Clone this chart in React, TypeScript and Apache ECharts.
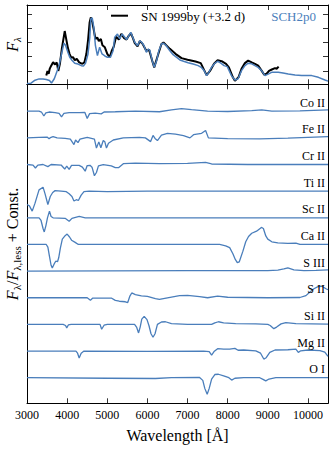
import React, { useEffect, useRef } from 'react';
import * as echarts from 'echarts';

const BLUE = '#4a7ebb';
const FONT = '"Liberation Serif", "Times New Roman", serif';

// wavelength axis
const xMin = 3000;
const xMax = 10500;
const xTickStep = 1000;
const topYTicks = [1, 2, 3, 4, 5];

// SN 1999by observed spectrum (arbitrary flux units)
const observedSpectrum: [number, number][] = [
  [3480, 0.67], [3510, 1.0], [3540, 0.8], [3565, 1.14], [3600, 1.35], [3650, 1.61], [3700, 1.45],
  [3740, 1.6], [3780, 1.0], [3820, 1.5], [3870, 2.6], [3940, 3.8], [3980, 3.2], [4020, 2.6],
  [4060, 2.2], [4100, 1.95], [4150, 1.96], [4190, 1.75], [4240, 1.85], [4300, 1.6], [4380, 1.5],
  [4430, 1.6], [4480, 2.2], [4520, 3.12], [4560, 4.4], [4590, 4.76], [4630, 4.4], [4670, 3.8],
  [4705, 3.24], [4750, 3.35], [4790, 3.1], [4840, 3.24], [4880, 2.8], [4940, 2.66], [5000, 2.2],
  [5060, 1.96], [5110, 2.4], [5160, 2.7], [5220, 3.4], [5290, 3.2], [5350, 3.6], [5420, 3.3],
  [5480, 3.2], [5530, 3.45], [5590, 3.65], [5640, 3.3], [5685, 2.95], [5755, 2.72], [5810, 3.1],
  [5880, 2.9], [5975, 2.4], [6040, 2.5], [6120, 1.72], [6170, 1.25], [6250, 2.0], [6350, 2.89],
  [6400, 3.0], [6560, 2.55], [6700, 2.2], [6850, 1.9], [7000, 1.78], [7200, 1.66], [7330, 1.55],
  [7420, 1.02], [7475, 0.7], [7560, 1.0], [7660, 1.5], [7750, 1.75], [7850, 1.68], [7960, 1.5],
  [8030, 1.25], [8130, 0.55], [8180, 0.3], [8270, 0.55], [8345, 1.15], [8430, 1.55], [8510, 1.72],
  [8600, 1.6], [8680, 1.5], [8760, 1.37], [8845, 1.02], [8910, 0.73], [8970, 0.8], [9030, 1.0],
  [9100, 1.1], [9180, 1.2], [9220, 1.15], [9270, 1.3],
];

// SCH2p0 model spectrum
const modelSpectrum: [number, number][] = [
  [3000, 0.12], [3100, 0.14], [3200, 0.35], [3300, 0.44], [3400, 0.44], [3480, 0.4], [3560, 0.33],
  [3610, 0.15], [3680, 0.45], [3750, 1.0], [3800, 1.4], [3860, 2.19], [3920, 2.94], [3960, 2.8],
  [4020, 2.3], [4065, 1.96], [4120, 1.75], [4190, 1.54], [4270, 1.48], [4355, 1.37], [4410, 1.35],
  [4460, 1.55], [4520, 2.19], [4565, 3.36], [4590, 4.65], [4625, 4.72], [4665, 4.06], [4705, 2.77],
  [4755, 2.07], [4810, 2.66], [4870, 2.19], [4940, 2.05], [5005, 1.96], [5080, 1.96], [5145, 2.42],
  [5185, 3.36], [5255, 3.59], [5310, 3.24], [5370, 3.59], [5435, 3.36], [5480, 3.2], [5530, 3.45],
  [5585, 3.71], [5630, 3.4], [5685, 3.01], [5755, 2.77], [5810, 3.12], [5860, 3.0], [5910, 2.8],
  [5975, 2.31], [6020, 2.54], [6060, 2.45], [6120, 1.72], [6170, 1.26], [6230, 1.72], [6285, 2.42],
  [6350, 2.89], [6400, 2.94], [6460, 2.8], [6560, 2.42], [6640, 2.14], [6730, 1.95], [6810, 1.77],
  [6900, 1.68], [7015, 1.58], [7140, 1.48], [7265, 1.37], [7340, 1.25], [7415, 1.02], [7475, 0.67],
  [7530, 0.9], [7600, 1.26], [7665, 1.49], [7750, 1.68], [7830, 1.55], [7910, 1.37], [7990, 1.3],
  [8095, 0.67], [8180, 0.36], [8260, 0.45], [8345, 1.02], [8430, 1.37], [8510, 1.54], [8600, 1.5],
  [8680, 1.37], [8760, 1.25], [8845, 1.02], [8930, 0.67], [9010, 0.78], [9095, 0.9], [9260, 0.9],
  [9380, 0.85], [9510, 0.79], [9680, 0.72], [9845, 0.67], [10095, 0.67], [10260, 0.55], [10425, 0.36],
  [10500, 0.28],
];

// flux ratios F / F_less (deviation from 1, before the constant offset)
const ratioOI: [number, number][] = [
  [3000, 0], [5000, -0.02], [6200, -0.03], [6600, 0], [7300, 0.01], [7380, -0.1], [7430, -0.4],
  [7490, -0.62], [7540, -0.4], [7600, -0.05], [7680, 0.12], [7770, 0.13], [7900, 0.07], [8030, 0],
  [8100, -0.09], [8180, -0.02], [8400, 0], [8800, 0], [8880, -0.06], [8950, -0.12], [9030, -0.05],
  [9200, 0], [10500, 0],
];
const ratioMgII: [number, number][] = [
  [3000, 0], [4220, 0], [4260, -0.08], [4300, -0.26], [4350, -0.08], [4420, 0], [6000, -0.01],
  [7400, 0], [7540, -0.02], [7600, -0.15], [7660, -0.02], [7750, 0.09], [7900, 0.07], [8050, 0.07],
  [8180, 0.1], [8260, 0.03], [8400, 0.04], [8700, 0.01], [8820, -0.08], [8900, -0.3], [8960, -0.25],
  [9050, -0.05], [9180, 0.04], [9500, 0.05], [9700, 0.07], [9760, -0.05], [9820, 0.01], [10000, 0.04],
  [10300, 0.02], [10420, -0.04], [10500, -0.2],
];
const ratioSiII: [number, number][] = [
  [3000, 0], [3900, 0], [3960, -0.04], [3990, -0.13], [4030, -0.02], [4100, 0], [4820, 0],
  [4860, -0.18], [4920, -0.03], [5000, 0], [5680, 0], [5730, -0.1], [5780, -0.32], [5820, -0.1],
  [5860, 0.2], [5920, 0.3], [5990, 0.18], [6040, -0.05], [6090, -0.35], [6140, -0.48], [6190, -0.35],
  [6250, 0], [6350, 0.09], [6450, 0.1], [6600, 0.03], [7000, 0], [7600, 0], [7680, 0.06], [7770, 0.1],
  [7900, 0.06], [8200, 0.03], [8700, 0.02], [9000, 0], [9060, -0.04], [9150, -0.16], [9220, -0.1],
  [9330, 0.02], [9450, 0.07], [9700, 0.03], [10500, 0.01],
];
const ratioSII: [number, number][] = [
  [3000, 0], [4500, 0], [4580, -0.09], [4640, -0.01], [5100, -0.01], [5200, -0.1], [5300, -0.13],
  [5450, -0.15], [5510, -0.18], [5560, 0.05], [5610, 0.18], [5700, 0.12], [5850, 0.07], [6000, 0.05],
  [6200, -0.03], [6300, -0.06], [6500, 0], [6800, 0.08], [7000, 0.09], [7300, 0.04], [7500, 0],
  [7750, 0.06], [8000, 0.02], [9000, 0], [9800, 0.01], [9950, 0.08], [10050, 0.22], [10150, 0.34],
  [10250, 0.42], [10350, 0.43], [10450, 0.34], [10500, 0.3],
];
const ratioSIII: [number, number][] = [
  [3000, 0], [5000, 0.01], [7000, 0.02], [9000, 0.02], [9250, 0.04], [9400, 0.08], [9500, 0.12],
  [9650, 0.05], [9900, 0.02], [10200, 0.03], [10500, 0.05],
];
const ratioCaII: [number, number][] = [
  [3000, 0], [3480, 0], [3520, -0.1], [3560, -0.45], [3600, -0.78], [3630, -0.88], [3680, -0.72],
  [3720, -0.62], [3760, -0.65], [3790, -0.5], [3830, -0.15], [3880, 0.2], [3950, 0.33], [4000, 0.39],
  [4060, 0.28], [4110, 0.16], [4200, 0.08], [4280, 0], [7800, 0], [7950, -0.05], [8050, -0.12],
  [8130, -0.35], [8190, -0.56], [8240, -0.68], [8290, -0.65], [8380, -0.25], [8450, 0.1], [8520, 0.3],
  [8600, 0.42], [8720, 0.5], [8840, 0.64], [8890, 0.6], [8950, 0.32], [9000, 0.2], [9100, 0.1],
  [9250, 0.06], [9500, 0.04], [9700, 0.05], [9800, 0], [10500, 0],
];
const ratioScII: [number, number][] = [
  [3000, 0], [3300, 0], [3350, -0.1], [3400, -0.4], [3430, -0.53], [3470, -0.3], [3510, 0.0],
  [3560, 0.25], [3600, 0.05], [3650, 0], [3950, -0.02], [4050, -0.13], [4120, -0.02], [4300, 0.05],
  [4450, 0], [10500, 0],
];
const ratioTiII: [number, number][] = [
  [3000, -0.5], [3060, -0.55], [3130, -0.75], [3200, -0.45], [3300, 0.05], [3400, 0.15], [3450, -0.1],
  [3520, -0.5], [3580, -0.2], [3640, -0.05], [3700, 0.02], [3850, 0], [3980, -0.02], [4050, -0.1],
  [4120, -0.2], [4170, -0.37], [4230, -0.32], [4280, -0.35], [4350, -0.15], [4420, -0.02], [4550, 0],
  [5000, -0.02], [6000, 0], [10500, 0],
];
const ratioCrII: [number, number][] = [
  [3000, 0], [3150, -0.02], [3210, -0.13], [3270, -0.02], [3400, 0], [3520, -0.08], [3600, 0],
  [3850, -0.02], [3940, -0.17], [3990, -0.06], [4050, -0.18], [4110, -0.03], [4300, -0.03],
  [4380, -0.1], [4450, -0.25], [4500, -0.04], [4570, -0.03], [4620, -0.1], [4680, -0.42],
  [4730, -0.3], [4780, -0.05], [4900, 0], [5100, -0.05], [5200, -0.12], [5280, -0.12], [5400, 0.03],
  [5700, 0.05], [6300, 0.03], [7000, 0.04], [7450, 0.08], [7600, 0.02], [8500, 0], [10500, 0],
];
const ratioFeII: [number, number][] = [
  [3000, 0], [3300, 0.02], [3500, 0.03], [3550, -0.03], [3600, 0.02], [3650, 0.05], [3750, 0],
  [3950, -0.02], [4080, -0.05], [4170, -0.25], [4210, -0.08], [4270, -0.18], [4320, -0.05],
  [4500, 0.02], [4680, -0.05], [4730, -0.38], [4790, -0.15], [4840, -0.37], [4900, -0.1],
  [4940, -0.15], [4980, -0.38], [5030, -0.2], [5150, -0.08], [5400, 0], [5800, 0.02], [5950, 0],
  [6080, -0.14], [6140, 0.09], [6190, -0.02], [6250, -0.1], [6350, 0.1], [6500, 0.17], [6700, 0.14],
  [6900, 0.08], [7060, 0], [7150, 0.12], [7350, 0.17], [7450, 0.28], [7520, 0], [8000, -0.03],
  [8800, -0.04], [9500, -0.01], [10500, 0.05],
];
const ratioCoII: [number, number][] = [
  [3000, 0], [3300, 0], [3360, -0.03], [3420, -0.18], [3470, -0.06], [3550, -0.03], [3700, -0.05],
  [3800, -0.08], [3860, -0.21], [3920, -0.08], [4050, -0.05], [4300, -0.05], [4440, -0.04],
  [4500, -0.27], [4560, -0.09], [4700, -0.07], [4850, -0.1], [4920, -0.03], [5200, -0.02], [5700, 0],
  [6300, -0.02], [6600, 0.05], [6850, 0.1], [7100, 0.06], [7500, 0], [8000, -0.01], [8600, 0.02],
  [8850, 0.05], [9100, 0], [9800, 0.01], [10500, 0.05],
];

// ions from bottom (offset 0) to top (offset 10)
const ionNames = ['O I', 'Mg II', 'Si II', 'S II', 'S III', 'Ca II', 'Sc II', 'Ti II', 'Cr II', 'Fe II', 'Co II'];
const ionRatios = [ratioOI, ratioMgII, ratioSiII, ratioSII, ratioSIII, ratioCaII, ratioScII, ratioTiII, ratioCrII, ratioFeII, ratioCoII];
const ionOffsets = [0, 1, 2, 3, 4, 5, 6, 7, 8, 9, 10];

const legendObserved = 'SN 1999by (+3.2 d)';
const legendModel = 'SCH2p0';

const tickStyle = { inside: true, length: 5, lineStyle: { color: '#000', width: 0.8 } };
const lineAxis = { show: true, onZero: false, lineStyle: { color: '#000', width: 1 } };

export default function App() {
  const ref = useRef<HTMLDivElement>(null);
  useEffect(() => {
    document.body.style.margin = '0';
    const chart = echarts.init(ref.current!, null, { renderer: 'svg' });
    const xBase = {
      type: 'value' as const,
      min: xMin,
      max: xMax,
      interval: xTickStep,
      axisLine: lineAxis,
      axisTick: tickStyle,
      splitLine: { show: false },
      axisLabel: { show: false },
    };
    const ionSeries = ionNames.map((name, i) => ({
      name,
      type: 'line' as const,
      xAxisIndex: 2,
      yAxisIndex: 2,
      showSymbol: false,
      symbol: 'none',
      lineStyle: { color: BLUE, width: 1.3 },
      data: ionRatios[i].map(([x, v]) => [x, v + ionOffsets[i]]),
      markPoint: {
        symbol: 'circle',
        symbolSize: 0,
        silent: true,
        itemStyle: { color: 'transparent' },
        data: [{ coord: [xMax, ionOffsets[i]] }],
        label: {
          show: true,
          position: 'left',
          distance: 3,
          offset: [0, -8.5],
          formatter: name,
          color: '#000',
          fontFamily: FONT,
          fontSize: 12,
        },
      },
    }));
    chart.setOption({
      animation: false,
      textStyle: { fontFamily: FONT },
      grid: [
        { left: 27, right: 3, top: 5, height: 79.3 },
        { left: 27, right: 3, top: 84.3, height: 319 },
      ],
      xAxis: [
        { ...xBase, gridIndex: 0, position: 'bottom' },
        { ...xBase, gridIndex: 0, position: 'top' },
        {
          ...xBase,
          gridIndex: 1,
          position: 'bottom',
          axisLabel: {
            show: true, color: '#000', fontFamily: FONT, fontSize: 12, margin: 6,
            formatter: (v: number) => String(v),
          },
          name: 'Wavelength [Å]',
          nameLocation: 'middle',
          nameGap: 24,
          nameTextStyle: { color: '#000', fontFamily: FONT, fontSize: 16, verticalAlign: 'top' },
        },
        { ...xBase, gridIndex: 1, position: 'top' },
      ],
      yAxis: [
        {
          type: 'value', gridIndex: 0, position: 'left', min: 0.06, max: 5.63,
          axisLine: lineAxis, axisTick: { ...tickStyle, customValues: topYTicks },
          axisLabel: { show: false }, splitLine: { show: false },
        },
        {
          type: 'value', gridIndex: 0, position: 'right', min: 0.06, max: 5.63,
          axisLine: lineAxis, axisTick: { ...tickStyle, customValues: topYTicks },
          axisLabel: { show: false }, splitLine: { show: false },
        },
        {
          type: 'value', gridIndex: 1, position: 'left', min: -0.96, max: 11.01,
          axisLine: lineAxis, axisTick: { show: false },
          axisLabel: { show: false }, splitLine: { show: false },
        },
        {
          type: 'value', gridIndex: 1, position: 'right', min: -0.96, max: 11.01,
          axisLine: lineAxis, axisTick: { show: false },
          axisLabel: { show: false }, splitLine: { show: false },
        },
      ],
      series: [
        {
          name: legendObserved,
          type: 'line',
          xAxisIndex: 0,
          yAxisIndex: 0,
          showSymbol: false,
          symbol: 'none',
          z: 2,
          lineStyle: { color: '#000', width: 2 },
          data: observedSpectrum,
        },
        {
          name: legendModel,
          type: 'line',
          xAxisIndex: 0,
          yAxisIndex: 0,
          showSymbol: false,
          symbol: 'none',
          z: 3,
          lineStyle: { color: BLUE, width: 1.5 },
          data: modelSpectrum,
        },
        ...ionSeries,
      ],
      graphic: [
        {
          type: 'line',
          shape: { x1: 111, y1: 15.7, x2: 128, y2: 15.7 },
          style: { stroke: '#000', lineWidth: 2 },
        },
        {
          type: 'text',
          x: 141,
          y: 16,
          style: { text: legendObserved, fill: '#000', fontFamily: FONT, fontSize: 13, verticalAlign: 'middle', align: 'left' },
        },
        {
          type: 'text',
          x: 316,
          y: 16,
          style: { text: legendModel, fill: BLUE, fontFamily: FONT, fontSize: 13, verticalAlign: 'middle', align: 'right' },
        },
        {
          type: 'text',
          x: 12.5,
          y: 44.5,
          rotation: Math.PI / 2,
          style: {
            text: '{f|F}{s|λ}',
            align: 'center',
            verticalAlign: 'middle',
            rich: {
              f: { fontFamily: FONT, fontSize: 16, fontStyle: 'italic', fill: '#000' },
              s: { fontFamily: FONT, fontSize: 11, fontStyle: 'italic', fill: '#000', padding: [8, 0, 0, 0] },
            },
          },
        },
        {
          type: 'text',
          x: 12.5,
          y: 244,
          rotation: Math.PI / 2,
          style: {
            text: '{f|F}{s|λ}{n|/}{f|F}{s|λ,less}{n| + Const.}',
            align: 'center',
            verticalAlign: 'middle',
            rich: {
              f: { fontFamily: FONT, fontSize: 16, fontStyle: 'italic', fill: '#000' },
              s: { fontFamily: FONT, fontSize: 11, fill: '#000', padding: [8, 0, 0, 0] },
              n: { fontFamily: FONT, fontSize: 16, fill: '#000' },
            },
          },
        },
      ],
    });
    return () => chart.dispose();
  }, []);
  return <div ref={ref} style={{ position: 'absolute', left: 0, top: 0, width: 331, height: 450 }} />;
}
